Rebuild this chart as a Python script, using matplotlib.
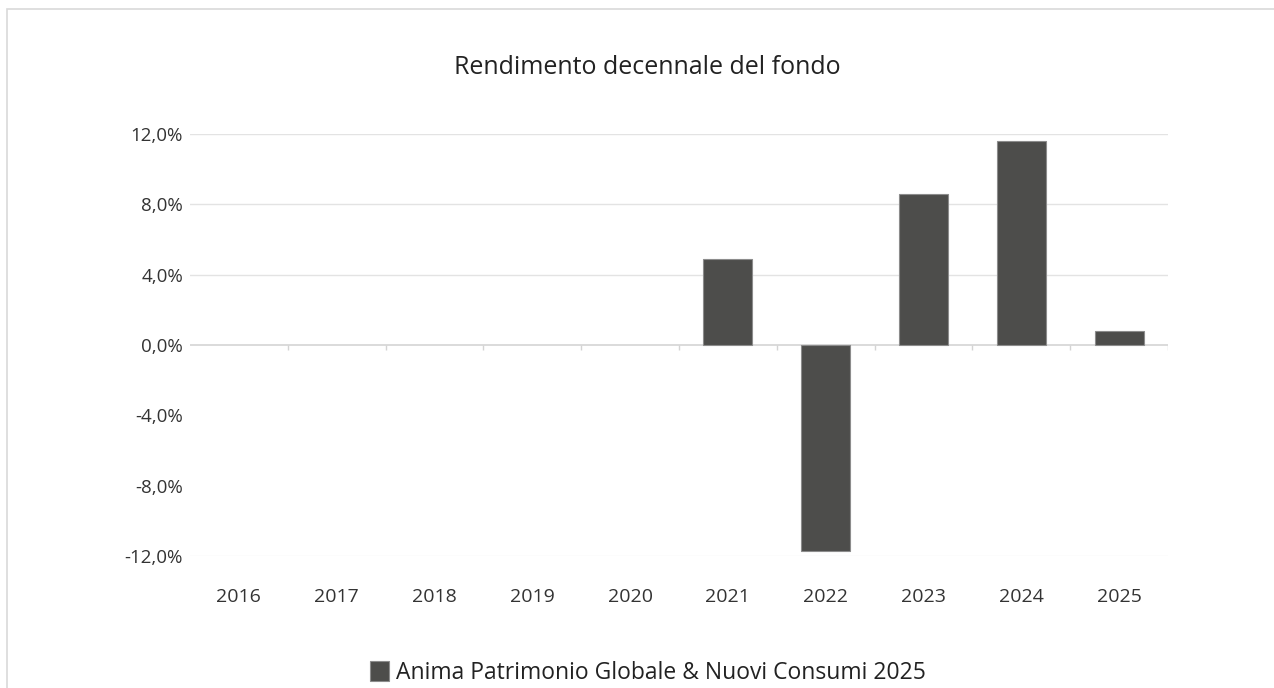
import numpy as np
import matplotlib.pyplot as plt
from matplotlib.patches import Rectangle

# Annual fund returns (%); None = no data for that year
years = ["2016", "2017", "2018", "2019", "2020", "2021", "2022", "2023", "2024", "2025"]
returns = [None, None, None, None, None, 4.9, -11.7, 8.6, 11.6, 0.8]
y_ticks = [-12, -8, -4, 0, 4, 8, 12]
y_tick_labels = ["-12,0%", "-8,0%", "-4,0%", "0,0%", "4,0%", "8,0%", "12,0%"]
series_name = "Anima Patrimonio Globale & Nuovi Consumi 2025"

plt.rcParams["font.family"] = ["Open Sans", "DejaVu Sans"]

fig = plt.figure(figsize=(12.74, 6.88), dpi=100)
ax = fig.add_axes([190 / 1274, 1 - 556 / 688, (1168 - 190) / 1274, (556 - 134) / 688])

# outer frame (only top and left edges visible in the reference)
fig.patches.append(Rectangle((7 / 1274, -0.1), 1.2, 1 - 9 / 688 + 0.1,
                             transform=fig.transFigure, fill=False,
                             edgecolor="#d9d9d9", linewidth=1.2))

x = np.arange(len(years))
xs = [i for i, v in zip(x, returns) if v is not None]
vals = [v for v in returns if v is not None]
ax.bar(xs, vals, width=0.5, color="#4d4d4b", edgecolor="#8c8c8c", linewidth=0.8,
       zorder=3, label=series_name)

# gridlines
for t in [4, 8, 12]:
    ax.axhline(t, color="#e3e3e3", linewidth=1.0, zorder=1)
ax.axhline(-12, color="#f0f0f0", linewidth=1.0, zorder=1)
ax.axhline(0, color="#d4d4d4", linewidth=1.2, zorder=2)
# category boundary ticks on the zero line
ax.vlines(np.arange(1, len(years) + 1) - 0.5, -0.3, 0, color="#d4d4d4", linewidth=1.0, zorder=2)

ax.set_xlim(-0.5, len(years) - 0.5)
ax.set_ylim(-12, 12)
ax.set_xticks(x)
ax.set_xticklabels(years, fontsize=14, color="#333333")
ax.set_yticks(y_ticks)
ax.set_yticklabels(y_tick_labels, fontsize=13.5, color="#333333")
ax.tick_params(axis="both", length=0)
ax.tick_params(axis="x", pad=23)
ax.tick_params(axis="y", pad=5)
for s in ax.spines.values():
    s.set_visible(False)

fig.text(647 / 1274, 1 - 68 / 688, "Rendimento decennale del fondo",
         ha="center", va="center", fontsize=18, color="#222222")

fig.legend(loc="center", bbox_to_anchor=(648 / 1274, 1 - 673 / 688), frameon=False,
           fontsize=16.5, handlelength=0.8, handleheight=1.0, handletextpad=0.3,
           labelcolor="#222222")

fig.savefig("out.png", dpi=100)
